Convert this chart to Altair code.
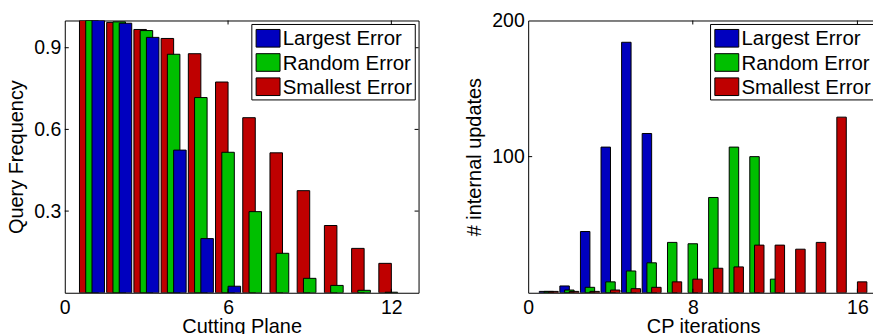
import altair as alt
import pandas as pd

# Series shown in both panels, in legend order, with their bar colours
SERIES = ["Largest Error", "Random Error", "Smallest Error"]
COLORS = ["#0000BF", "#00BF00", "#BF0000"]

# Left panel: how often each cutting plane is queried
cutting_plane = list(range(1, 13))
freq_largest = [1.0, 0.99, 0.938, 0.524, 0.199, 0.024, 0, 0, 0, 0, 0, 0]
freq_random = [1.0, 0.995, 0.963, 0.876, 0.717, 0.516, 0.298, 0.145, 0.053, 0.027, 0.009, 0.002]
freq_smallest = [1.0, 0.993, 0.967, 0.934, 0.878, 0.774, 0.643, 0.514, 0.375, 0.247, 0.163, 0.108]

# Right panel: number of internal updates per CP iteration
cp_iteration = list(range(1, 17))
upd_largest = [1, 5, 45, 107, 184, 117, 0, 0, 0, 0, 0, 0, 0, 0, 0, 0]
upd_random = [1, 2, 4, 8, 16, 22, 37, 36, 70, 107, 100, 10, 0, 0, 0, 0]
upd_smallest = [1, 1, 1, 2, 3, 4, 8, 10, 18, 19, 35, 35, 32, 37, 129, 8]

# Axis tick values
left_xticks = [0, 6, 12]
left_yticks = [0.3, 0.6, 0.9]
right_xticks = [0, 8, 16]
right_yticks = [100, 200]

FONT = "Liberation Sans"
BAR_W = 0.46   # width of one bar in x units
SHIFT = 0.23   # side offset of the outer bars of a group
TICK = 4       # inward tick length, px

color_scale = alt.Scale(domain=SERIES, range=COLORS)


def panel(pos, values, order, shift, xdom, ydom, W, H, xt, yt, yfmt,
          xtitle, ytitle, ytitle_x, legend_left):
    frames = [
        pd.DataFrame({"pos": pos, "value": values[name], "series": name,
                      "shift": shift[name]})
        for name in order
    ]
    df = pd.concat(frames, ignore_index=True)
    xs = alt.Scale(domain=xdom, nice=False, zero=False)
    ys = alt.Scale(domain=ydom, nice=False)
    xaxis = alt.Axis(
        values=xt, format="d", title=xtitle, labelBaseline="alphabetic",
        labelFlush=False, labelPadding=20.8, titleX=W / 2, titleY=40.3,
        titleBaseline="alphabetic")
    yaxis = alt.Axis(
        values=yt, format=yfmt, title=ytitle, labelPadding=4,
        labelFlush=False, titleX=ytitle_x, titleY=H / 2,
        titleBaseline="alphabetic")

    bars = alt.Chart(df).transform_filter("datum.value > 0").transform_calculate(
        left=f"datum.pos + datum.shift - {BAR_W / 2}",
        right=f"datum.pos + datum.shift + {BAR_W / 2}",
    ).mark_bar(stroke="black", strokeWidth=1, clip=True).encode(
        x=alt.X("left:Q", scale=xs, axis=xaxis),
        x2="right:Q",
        y=alt.Y("value:Q", scale=ys, stack=None, axis=yaxis),
        y2=alt.datum(0),
        color=alt.Color("series:N", scale=color_scale, legend=None),
    )

    # inward tick marks on all four sides of the box
    xtk = pd.DataFrame({"t": [v for v in xt if xdom[0] < v < xdom[1]]})
    ytk = pd.DataFrame({"t": [v for v in yt if ydom[0] < v < ydom[1]]})
    tick_bottom = alt.Chart(xtk).mark_rule(color="black").encode(
        x=alt.X("t:Q", scale=xs, axis=xaxis),
        y=alt.value(H - TICK), y2=alt.value(H))
    tick_top = alt.Chart(xtk).mark_rule(color="black").encode(
        x=alt.X("t:Q", scale=xs, axis=xaxis),
        y=alt.value(0), y2=alt.value(TICK))
    tick_left = alt.Chart(ytk).mark_rule(color="black").encode(
        y=alt.Y("t:Q", scale=ys, axis=yaxis),
        x=alt.value(0), x2=alt.value(TICK))
    tick_right = alt.Chart(ytk).mark_rule(color="black").encode(
        y=alt.Y("t:Q", scale=ys, axis=yaxis),
        x=alt.value(W - TICK), x2=alt.value(W))

    # boxed legend in the upper right corner
    box = alt.Chart(pd.DataFrame({"series": [SERIES[0]]})).mark_rect(
        fill="white", stroke="black", strokeWidth=1).encode(
        x=alt.value(legend_left), x2=alt.value(legend_left + 164),
        y=alt.value(4), y2=alt.value(79.7))
    entries = []
    for i, name in enumerate(SERIES):
        one = pd.DataFrame({"series": [name]})
        entries.append(alt.Chart(one).mark_rect(stroke="black", strokeWidth=1).encode(
            x=alt.value(legend_left + 4.3), x2=alt.value(legend_left + 28.3),
            y=alt.value(9 + i * 24.3), y2=alt.value(26.7 + i * 24.3),
            color=alt.Color("series:N", scale=color_scale, legend=None)))
        entries.append(alt.Chart(one).mark_text(
            align="left", baseline="alphabetic", font=FONT, fontSize=20.5,
            color="black").encode(
            x=alt.value(legend_left + 31), y=alt.value(25 + i * 24.3),
            text="series:N"))

    return alt.layer(bars, tick_bottom, tick_top, tick_left, tick_right,
                     box, *entries).properties(width=W, height=H)


left = panel(
    cutting_plane,
    {"Largest Error": freq_largest, "Random Error": freq_random,
     "Smallest Error": freq_smallest},
    ["Smallest Error", "Random Error", "Largest Error"],
    {"Smallest Error": -SHIFT, "Random Error": 0.0, "Largest Error": SHIFT},
    [0, 13], [0, 1], 355, 273.2, left_xticks, left_yticks, ".1f",
    "Cutting Plane", "Query Frequency", -42.2, 187.7)

right = panel(
    cp_iteration,
    {"Largest Error": upd_largest, "Random Error": upd_random,
     "Smallest Error": upd_smallest},
    ["Largest Error", "Random Error", "Smallest Error"],
    {"Largest Error": -SHIFT, "Random Error": 0.0, "Smallest Error": SHIFT},
    [0, 17], [0, 200], 351, 273.2, right_xticks, right_yticks, "d",
    "CP iterations", "# internal updates", -48.2, 183)

chart = alt.hconcat(left, right, spacing=44).properties(
    padding={"left": 6, "top": 9, "right": -6, "bottom": -4},
    background="white",
).configure_view(
    stroke="black", strokeWidth=1
).configure_axis(
    grid=False, domain=False, ticks=False, tickSize=0,
    labelFont=FONT, labelFontSize=19.5, labelColor="black",
    titleFont=FONT, titleFontSize=20, titleFontWeight="normal",
    titleColor="black",
)

chart.save("out.html", embed_options={"renderer": "svg", "actions": False})
